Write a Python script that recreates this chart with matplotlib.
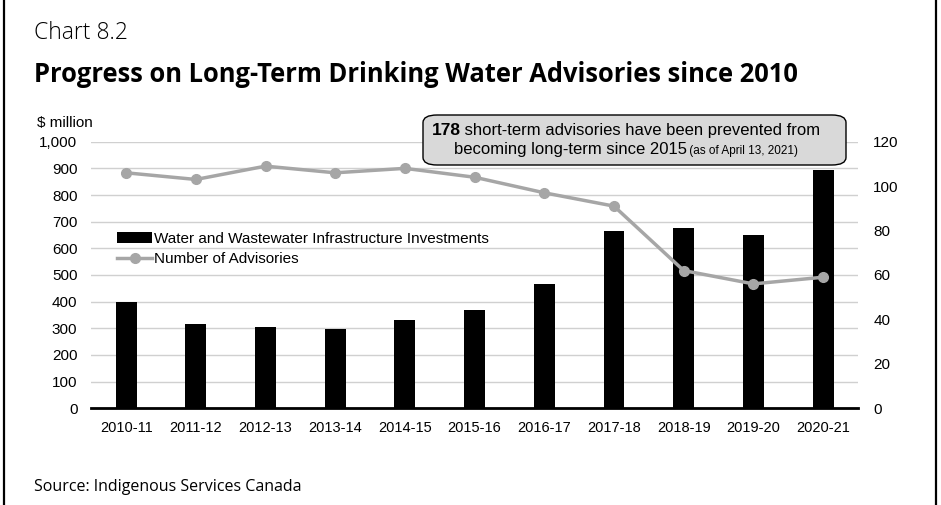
import numpy as np
import matplotlib.pyplot as plt
from matplotlib.patches import FancyBboxPatch, Rectangle

years = ['2010-11', '2011-12', '2012-13', '2013-14', '2014-15', '2015-16',
         '2016-17', '2017-18', '2018-19', '2019-20', '2020-21']
investments = [397, 316, 305, 297, 333, 370, 465, 665, 675, 650, 893]
advisories = [106, 103, 109, 106, 108, 104, 97, 91, 62, 56, 59]

W, H = 941, 505
fig = plt.figure(figsize=(W / 100, H / 100), dpi=100)

def fx(px):
    return px / W

def fy(py):
    return 1 - py / H

# outer frame
fig.patches.append(Rectangle((fx(4), fy(520)), fx(932), 1.2, transform=fig.transFigure,
                             fill=False, edgecolor='black', lw=1.6))

fig.text(fx(34), fy(33), 'Chart 8.2', fontsize=16.5, family='Open Sans',
         fontweight='light', va='center', ha='left')
fig.text(fx(34), fy(75), 'Progress on Long-Term Drinking Water Advisories since 2010',
         fontsize=18.4, family='Open Sans', fontweight='bold', va='center', ha='left')
fig.text(fx(34), fy(487), 'Source: Indigenous Services Canada', fontsize=11.5,
         family='Open Sans', va='center', ha='left')

ax = fig.add_axes([fx(91.3), fy(408.3), fx(857.9 - 91.3), fy(141.7) - fy(408.3)])
x = np.arange(len(years))
bars = ax.bar(x, investments, width=0.3, color='black', zorder=3,
              label='Water and Wastewater Infrastructure Investments')
ax.set_ylim(0, 1000)
ax.set_xlim(-0.5, len(years) - 0.5)
ax.set_yticks(range(0, 1001, 100))
ax.set_yticklabels([f'{v:,}' for v in range(0, 1001, 100)], family='Liberation Sans', fontsize=11)
ax.set_xticks(x)
ax.set_xticklabels(years, family='Liberation Sans', fontsize=10.5)
ax.grid(axis='y', color='#d0d0d0', lw=1, zorder=0)
for s in ['top', 'right', 'left']:
    ax.spines[s].set_visible(False)
ax.spines['bottom'].set_linewidth(2)
ax.tick_params(length=0)
ax.tick_params(axis='x', pad=9)
ax.tick_params(axis='y', pad=10)
ax.text((37 - 91.3) / 766.6, 1 + (141.7 - 123) / 266.7, '$ million', transform=ax.transAxes,
        family='Liberation Sans', fontsize=11, ha='left', va='center')

ax2 = ax.twinx()
line, = ax2.plot(x, advisories, color='#a6a6a6', lw=2.5, marker='o', markersize=7,
                 zorder=4, label='Number of Advisories')
ax2.set_ylim(0, 120)
ax2.set_yticks(range(0, 121, 20))
ax2.set_yticklabels([str(v) for v in range(0, 121, 20)], family='Liberation Sans', fontsize=11)
for s in ['top', 'right', 'left', 'bottom']:
    ax2.spines[s].set_visible(False)
ax2.tick_params(length=0, pad=11)

leg = ax.legend([bars, line], [bars.get_label(), line.get_label()],
                loc='upper left', bbox_to_anchor=(0.026, 0.685), frameon=False,
                prop={'family': 'Liberation Sans', 'size': 11}, handlelength=2.3,
                handletextpad=0.1, labelspacing=0.42, borderaxespad=0)

# annotation box
box = FancyBboxPatch((fx(423), fy(165)), fx(846 - 423), fy(115) - fy(165),
                     boxstyle='round,pad=0,rounding_size=0.015', transform=fig.transFigure,
                     facecolor='#d9d9d9', edgecolor='black', lw=1, zorder=10)
fig.patches.append(box)

fig.canvas.draw()
r = fig.canvas.get_renderer()

def row(parts, cx, cy):
    texts = []
    for s, kw in parts:
        t = fig.text(0, cy, s, va='baseline', ha='left', zorder=11,
                     family='Liberation Sans', **kw)
        texts.append(t)
    widths = [t.get_window_extent(r).width for t in texts]
    total = sum(widths)
    left = cx * W - total / 2
    for t, w in zip(texts, widths):
        t.set_x(left / W)
        left += w

row([('178', dict(fontsize=12.5, fontweight='bold')),
     (' short-term advisories have been prevented from', dict(fontsize=12))],
    fx(626), fy(135))
row([('becoming long-term since 2015', dict(fontsize=12)),
     (' (as of April 13, 2021)', dict(fontsize=8.5))],
    fx(626), fy(154))

fig.savefig('out.png', dpi=100)
